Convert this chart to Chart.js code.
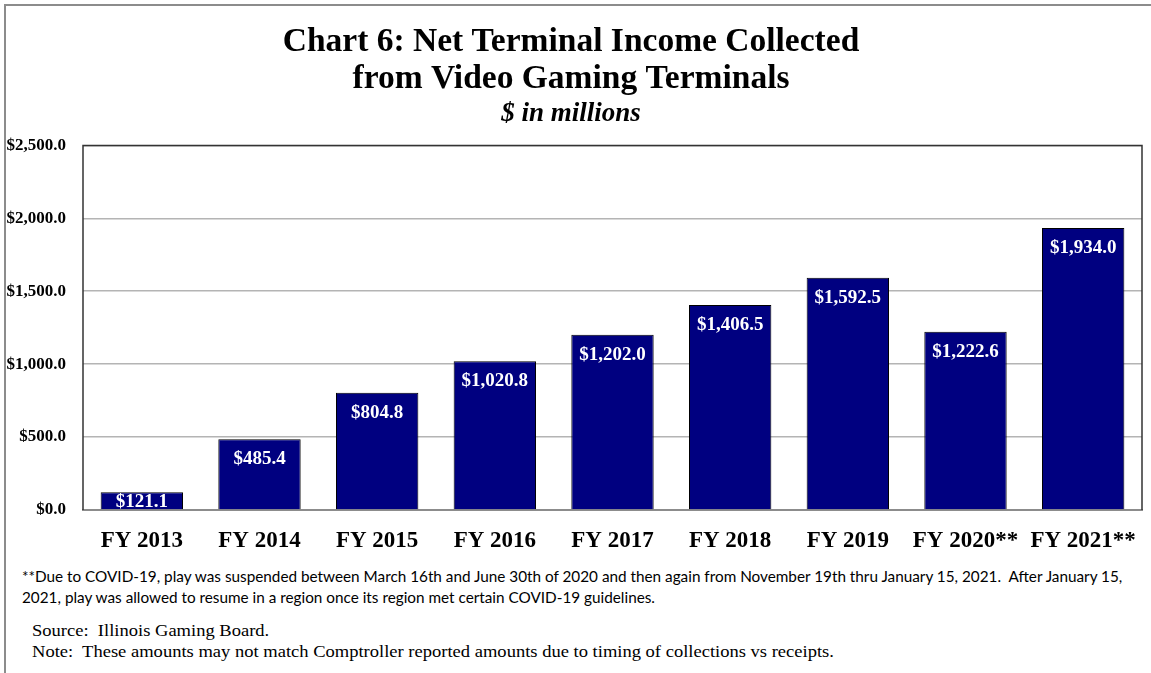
<!DOCTYPE html>
<html>
<head>
<meta charset="utf-8">
<script src="https://cdn.jsdelivr.net/npm/chart.js@4.4.1/dist/chart.umd.min.js"></script>
<style>
  body { margin: 0; background: #fff; }
  #page { position: relative; width: 1151px; height: 673px; overflow: hidden; }
  #frame {
    position: absolute; left: 4px; top: 4px; width: 1160px; height: 680px;
    border-left: 2px solid #8c8c8c; border-top: 2px solid #8c8c8c;
  }
  #chartBox { position: absolute; left: 0; top: 0; width: 1151px; height: 560px; }
  .note { position: absolute; white-space: nowrap; color: #000; transform-origin: 0 0; }
  #covid { left: 22px; top: 566px; font: 15.3px Lato, "Open Sans", sans-serif; line-height: 21px; }
  #source { left: 32px; top: 620px; font: 17px "Liberation Serif", "Times New Roman", serif; line-height: 21px; transform: scaleX(1.09); }
</style>
</head>
<body>
<div id="page">
  <div id="frame"></div>
  <div id="chartBox"><canvas id="nti" width="1151" height="560"></canvas></div>
  <div class="note" id="covid">**Due to COVID-19, play was suspended between March 16th and June 30th of 2020 and then again from November 19th thru January 15, 2021.&nbsp; After January 15,<br>2021, play was allowed to resume in a region once its region met certain COVID-19 guidelines.</div>
  <div class="note" id="source">Source:&nbsp; Illinois Gaming Board.<br>Note:&nbsp; These amounts may not match Comptroller reported amounts due to timing of collections vs receipts.</div>
</div>
<script>
// fiscal years and net terminal income ($ millions)
const fiscalYears = ["FY 2013", "FY 2014", "FY 2015", "FY 2016", "FY 2017", "FY 2018", "FY 2019", "FY 2020**", "FY 2021**"];
const netIncome = [121.1, 485.4, 804.8, 1020.8, 1202.0, 1406.5, 1592.5, 1222.6, 1934.0];
const yTicks = [0, 500, 1000, 1500, 2000, 2500];

const serif = '"Liberation Serif", "Times New Roman", serif';
const money = v => "$" + Number(v).toLocaleString("en-US", { minimumFractionDigits: 1, maximumFractionDigits: 1 });

// white value text near the top of each bar
const barValues = {
  id: "barValues",
  afterDatasetsDraw(chart) {
    const ctx = chart.ctx;
    const meta = chart.getDatasetMeta(0);
    ctx.save();
    ctx.fillStyle = "#fff";
    ctx.font = "bold 19px " + serif;
    ctx.textAlign = "center";
    ctx.textBaseline = "middle";
    meta.data.forEach((bar, i) => {
      const y = Math.min(bar.y + 20, (bar.y + bar.base) / 2 + 1);
      ctx.fillText(money(chart.data.datasets[0].data[i]), bar.x, y);
    });
    ctx.restore();
  }
};

// dark outline on left / top / right of plot area
const plotFrame = {
  id: "plotFrame",
  afterDraw(chart) {
    const a = chart.chartArea;
    const ctx = chart.ctx;
    ctx.save();
    ctx.strokeStyle = "#333";
    ctx.lineWidth = 1.5;
    ctx.beginPath();
    ctx.moveTo(a.left, a.bottom);
    ctx.lineTo(a.left, a.top);
    ctx.lineTo(a.right, a.top);
    ctx.lineTo(a.right, a.bottom);
    ctx.stroke();
    ctx.restore();
  }
};

new Chart(document.getElementById("nti"), {
  type: "bar",
  data: {
    labels: fiscalYears,
    datasets: [{
      data: netIncome,
      backgroundColor: "#000080",
      borderColor: "#000",
      borderWidth: 1,
      categoryPercentage: 0.7,
      barPercentage: 1
    }]
  },
  options: {
    responsive: false,
    animation: false,
    layout: { padding: { left: 0, right: 9, top: 0, bottom: 0 } },
    plugins: {
      legend: { display: false },
      tooltip: { enabled: false },
      title: {
        display: true,
        text: ["Chart 6: Net Terminal Income Collected", "from Video Gaming Terminals"],
        color: "#000",
        font: { family: serif, size: 33.5, weight: "bold", lineHeight: 1.13 },
        padding: { top: 23, bottom: 0 }
      },
      subtitle: {
        display: true,
        text: "$ in millions",
        color: "#000",
        font: { family: serif, size: 27, weight: "bold", style: "italic", lineHeight: 1.1 },
        padding: { top: 0, bottom: 17 }
      }
    },
    scales: {
      x: {
        afterFit: s => {
          s.height = 50;
          // labels sit inside their category slots, no side overhang needed
          s.paddingLeft = 0;
          s.paddingRight = 0;
        },
        grid: { display: false, drawTicks: false },
        border: { color: "#8c8c8c", width: 2 },
        ticks: {
          color: "#000",
          font: { family: serif, size: 23, weight: "bold" },
          padding: 17,
          maxRotation: 0,
          autoSkip: false
        }
      },
      y: {
        min: 0,
        max: 2500,
        afterBuildTicks: s => { s.ticks = yTicks.map(v => ({ value: v })); },
        afterFit: s => { s.width = 83; },
        grid: { color: "#b4b4b4", lineWidth: 1.5, drawTicks: false },
        border: { display: false },
        ticks: {
          color: "#000",
          font: { family: serif, size: 17, weight: "bold" },
          padding: 17,
          callback: v => money(v)
        }
      }
    }
  },
  plugins: [barValues, plotFrame]
});
</script>
</body>
</html>
